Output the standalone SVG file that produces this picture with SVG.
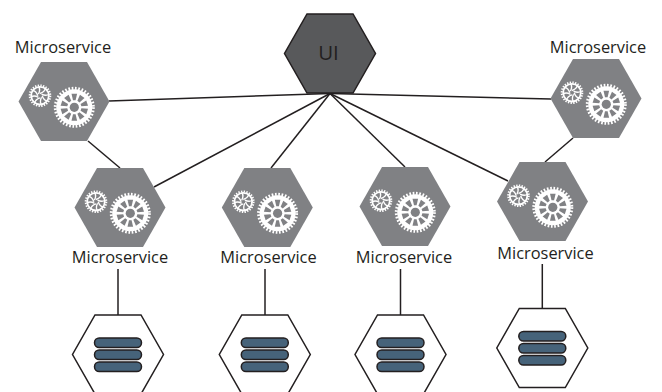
<svg xmlns="http://www.w3.org/2000/svg" width="662" height="392" viewBox="0 0 662 392">
<style>
.t{font-family:"Open Sans","Noto Sans",sans-serif;font-size:16.4px;fill:#231f20;text-anchor:middle}
.c line{stroke:#231f20;stroke-width:1.5}
.g{fill:#808184}
.d{fill:#fff;stroke:#231f20;stroke-width:1.5}
.b{fill:#46637a;stroke:#231f20;stroke-width:1.5}
.w{fill:#808184}
.s{fill:none;stroke:#fff;stroke-width:1.4}
</style>
<defs>
<polygon id="hex" points="-23,-39.5 23,-39.5 45.5,0 23,39.500 -23,39.500 -45.5,0"/>
<polygon id="wedge" class="w" points="-1.3,-7 1.3,-7 2.8,-13.5 -2.8,-13.5"/>
<path id="blade" class="s" d="M0,-2.200C2.500,-3 5,-5 5.500,-7.500"/>
<g id="gears">
<g transform="translate(10.300 5.800)">
<circle r="18" fill="#fff"/>
<circle r="19" fill="none" stroke="#fff" stroke-width="3" stroke-dasharray="1.66 1.66"/>
<use href="#wedge"/><use href="#wedge" transform="rotate(36)"/><use href="#wedge" transform="rotate(72)"/><use href="#wedge" transform="rotate(108)"/><use href="#wedge" transform="rotate(144)"/><use href="#wedge" transform="rotate(180)"/><use href="#wedge" transform="rotate(216)"/><use href="#wedge" transform="rotate(252)"/><use href="#wedge" transform="rotate(288)"/><use href="#wedge" transform="rotate(324)"/>
<circle r="4.600" fill="#808184"/>
</g>
<g transform="translate(-24 -5.800)">
<circle r="8.800" fill="none" stroke="#fff" stroke-width="1.800"/>
<circle r="10.300" fill="none" stroke="#fff" stroke-width="2" stroke-dasharray="1.350 1.350"/>
<use href="#blade"/><use href="#blade" transform="rotate(45)"/><use href="#blade" transform="rotate(90)"/><use href="#blade" transform="rotate(135)"/><use href="#blade" transform="rotate(180)"/><use href="#blade" transform="rotate(225)"/><use href="#blade" transform="rotate(270)"/><use href="#blade" transform="rotate(315)"/>
</g>
</g>
<g id="db">
<rect x="-23.500" y="-16.500" width="47" height="9.500" rx="4.700" class="b"/>
<rect x="-23.500" y="-4.500" width="47" height="9.500" rx="4.700" class="b"/>
<rect x="-23.500" y="7.500" width="47" height="9.500" rx="4.700" class="b"/>
</g>
</defs>
<g id="connectors" class="c">
<line x1="330" y1="93.500" x2="109" y2="101"/>
<line x1="330" y1="93.500" x2="154" y2="187"/>
<line x1="330" y1="93.500" x2="271" y2="168"/>
<line x1="330" y1="93.500" x2="405" y2="167"/>
<line x1="330" y1="93.500" x2="508" y2="181"/>
<line x1="330" y1="93.500" x2="551" y2="99"/>
<line x1="88" y1="141" x2="120" y2="168"/>
<line x1="573" y1="138" x2="545" y2="162"/>
<line x1="118" y1="269" x2="118" y2="315"/>
<line x1="265" y1="269" x2="265" y2="315"/>
<line x1="400.500" y1="269" x2="400.500" y2="315"/>
<line x1="542.300" y1="264" x2="542.300" y2="308.500"/>
</g>
<g id="ui"><use href="#hex" transform="translate(330 53.500)" fill="#58595b" stroke="#231f20" stroke-width="1.500"/><text class="t" x="328.500" y="60" style="font-size:20.500px">UI</text></g>
<g id="ms1"><use href="#hex" class="g" transform="translate(64 101.500)"/><use href="#gears" transform="translate(64 101.500)"/><text class="t" x="63" y="53">Microservice</text></g>
<g id="ms2"><use href="#hex" class="g" transform="translate(120 207.500)"/><use href="#gears" transform="translate(120 207.500)"/><text class="t" x="120" y="263">Microservice</text></g>
<g id="ms3"><use href="#hex" class="g" transform="translate(267.300 207.500)"/><use href="#gears" transform="translate(267.300 207.500)"/><text class="t" x="268.500" y="263">Microservice</text></g>
<g id="ms4"><use href="#hex" class="g" transform="translate(405 206.500)"/><use href="#gears" transform="translate(405 206.500)"/><text class="t" x="404" y="263">Microservice</text></g>
<g id="ms5"><use href="#hex" class="g" transform="translate(542.500 201.500)"/><use href="#gears" transform="translate(542.500 201.500)"/><text class="t" x="545.500" y="259">Microservice</text></g>
<g id="ms6"><use href="#hex" class="g" transform="translate(596 98.500)"/><use href="#gears" transform="translate(596 98.500)"/><text class="t" x="598" y="53">Microservice</text></g>
<g id="db1"><use href="#hex" class="d" transform="translate(118 354.500)"/><use href="#db" transform="translate(118 354.500)"/></g>
<g id="db2"><use href="#hex" class="d" transform="translate(264.800 354.500)"/><use href="#db" transform="translate(264.800 354.500)"/></g>
<g id="db3"><use href="#hex" class="d" transform="translate(400.500 354.500)"/><use href="#db" transform="translate(400.500 354.500)"/></g>
<g id="db4"><use href="#hex" class="d" transform="translate(542.300 348)"/><use href="#db" transform="translate(542.300 348)"/></g>
</svg>
